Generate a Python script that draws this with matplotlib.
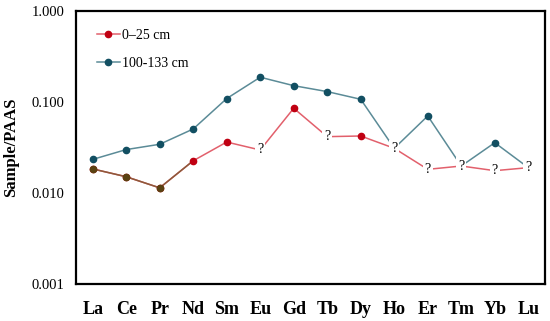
import matplotlib
matplotlib.use("Agg")
import matplotlib.pyplot as plt
from matplotlib.lines import Line2D
from matplotlib.ticker import FixedLocator, FixedFormatter

elements = ["La", "Ce", "Pr", "Nd", "Sm", "Eu", "Gd", "Tb", "Dy", "Ho", "Er", "Tm", "Yb", "Lu"]

# 0-25 cm
top_vals = [0.0184, 0.0151, 0.0114, 0.0226, 0.0363, 0.0297, 0.0853, 0.0416, 0.0423, 0.031, 0.0182, 0.0198, 0.0176, 0.019]
top_unknown = [False, False, False, False, False, True, False, True, False, True, True, True, True, True]

# 100-133 cm
deep_vals = [0.0234, 0.030, 0.0343, 0.0505, 0.109, 0.187, 0.151, 0.130, 0.107, 0.031, 0.0702, 0.0198, 0.0357, 0.019]
deep_unknown = [False, False, False, False, False, False, False, False, False, True, False, True, False, True]

yticks = [0.001, 0.01, 0.1, 1.0]
ytick_labels = ["0.001", "0.010", "0.100", "1.000"]

plt.rcParams["font.family"] = ["Liberation Serif", "DejaVu Serif"]

fig = plt.figure(figsize=(5.5, 3.21), dpi=100)
ax = fig.add_axes([0.138, 0.115, 0.853, 0.851])
x = list(range(len(elements)))

red_line = "#e2606c"
red_mark = "#c00012"
blue_line = "#5b8b97"
blue_mark = "#124f62"
brown_line = "#8c5a3a"
brown_mark = "#5a4212"


def draw_series(vals, unknown, lcolor, mcolor):
    ax.plot(x, vals, color=lcolor, lw=1.1, zorder=2)
    kx = [i for i in x if not unknown[i]]
    kv = [vals[i] for i in x if not unknown[i]]
    ax.plot(kx, kv, ls="none", marker="o", ms=4.5, color=mcolor, zorder=3)
    # values marked "?" in the source
    for i in x:
        if unknown[i]:
            ax.text(i, vals[i], "?", ha="center", va="center", fontsize=10,
                    zorder=4, bbox=dict(facecolor="white", edgecolor="none", pad=1.5))


draw_series(deep_vals, deep_unknown, blue_line, blue_mark)
draw_series(top_vals, top_unknown, red_line, red_mark)
# brownish overlap at the start of the shallow series
ax.plot(x[:4], top_vals[:4], color=brown_line, lw=1.1, zorder=2.5)
ax.plot(x[:3], top_vals[:3], ls="none", marker="o", ms=4.5, color=brown_mark, zorder=3.5)

ax.set_yscale("log")
ax.set_ylim(0.001, 1.0)
ax.set_xlim(-0.5, len(elements) - 0.5)
ax.yaxis.set_major_locator(FixedLocator(yticks))
ax.yaxis.set_major_formatter(FixedFormatter(ytick_labels))
ax.yaxis.set_minor_locator(FixedLocator([]))
ax.set_xticks(x)
ax.set_xticklabels(elements, fontsize=13, fontweight="bold")
ax.tick_params(axis="both", length=0)
ax.tick_params(axis="y", labelsize=10.5, pad=8.5)
ax.tick_params(axis="x", pad=12)
ax.set_ylabel("Sample/PAAS", fontsize=12, fontweight="bold", labelpad=9)

for sp in ax.spines.values():
    sp.set_linewidth(1.6)
    sp.set_color("black")

handles = [
    Line2D([], [], color=red_line, marker="o", ms=4.5, mfc=red_mark, mec=red_mark, lw=1.1),
    Line2D([], [], color=blue_line, marker="o", ms=4.5, mfc=blue_mark, mec=blue_mark, lw=1.1),
]
ax.legend(handles, ["0\u201325 cm", "100-133 cm"], loc="upper left", frameon=False,
          fontsize=10, handlelength=1.6, handletextpad=0.2, labelspacing=1.1,
          bbox_to_anchor=(0.019, 0.98))

fig.savefig("out.png", dpi=100)
